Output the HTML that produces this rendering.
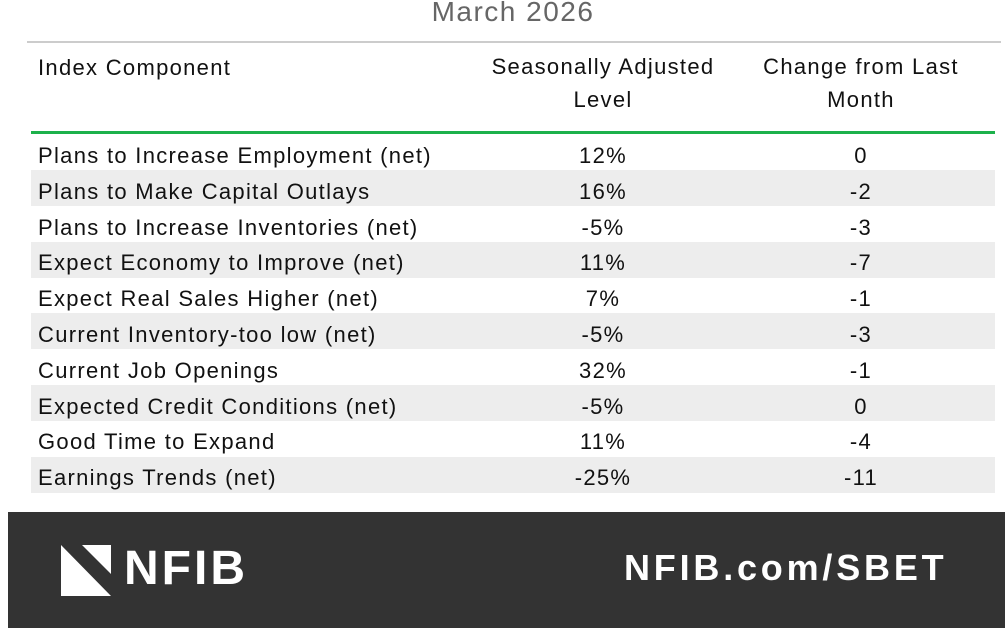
<!DOCTYPE html>
<html><head><style>
body{margin:0;width:1005px;height:633px;background:#fff;position:relative;overflow:hidden;font-family:"Liberation Sans","DejaVu Sans",sans-serif;color:#111}
.a{position:absolute;white-space:nowrap}
.t{font-size:22px;line-height:36px;letter-spacing:1.3px}
.c{transform:translateX(-50%)}
.row{position:absolute;left:31px;width:964px;height:36px}
</style></head><body>
<div class="a c" style="left:513px;top:-4px;font-size:28px;letter-spacing:1.5px;color:#666">March 2026</div>
<div class="a" style="left:27px;top:41px;width:974px;height:2px;background:#ccc"></div>
<div class="a t" style="left:38px;top:50px">Index Component</div>
<div class="a c" style="left:603px;top:50px;font-size:22px;letter-spacing:1.3px;line-height:33px;text-align:center">Seasonally Adjusted<br>Level</div>
<div class="a c" style="left:861px;top:50px;font-size:22px;letter-spacing:1.3px;line-height:33px;text-align:center">Change from Last<br>Month</div>
<div class="a" style="left:31px;top:131px;width:964px;height:3px;background:#1db14b"></div>
<div class="row" style="top:170px;background:#ededed"></div>
<div class="row" style="top:242px;background:#ededed"></div>
<div class="row" style="top:313px;background:#ededed"></div>
<div class="row" style="top:385px;background:#ededed"></div>
<div class="row" style="top:457px;background:#ededed"></div>
<div id="rows"></div>
<script>
var d=[["Plans to Increase Employment (net)","12%","0"],["Plans to Make Capital Outlays","16%","-2"],["Plans to Increase Inventories (net)","-5%","-3"],["Expect Economy to Improve (net)","11%","-7"],["Expect Real Sales Higher (net)","7%","-1"],["Current Inventory-too low (net)","-5%","-3"],["Current Job Openings","32%","-1"],["Expected Credit Conditions (net)","-5%","0"],["Good Time to Expand","11%","-4"],["Earnings Trends (net)","-25%","-11"]];
var h="";d.forEach(function(r,i){var y=138+i*35.8;
h+='<div class="a t" style="left:38px;top:'+y+'px">'+r[0]+'</div><div class="a t c" style="left:603px;top:'+y+'px">'+r[1]+'</div><div class="a t c" style="left:861px;top:'+y+'px">'+r[2]+'</div>';});
document.getElementById("rows").innerHTML=h;
</script>
<div class="a" style="left:8px;top:512px;width:997px;height:116px;background:#333"></div>
<svg class="a" style="left:61px;top:545px" width="50" height="51"><polygon points="0,0 0,51 50,51" fill="#fff"/><polygon points="21,0 50,0 50,29" fill="#fff"/></svg>
<div class="a" style="left:124px;top:541px;font-size:48px;font-weight:bold;color:#fff;line-height:56px;letter-spacing:3px">NFIB</div>
<div class="a" style="left:624px;top:546px;font-size:36px;font-weight:bold;color:#fff;line-height:44px;letter-spacing:3.8px">NFIB.com/SBET</div>
</body></html>
